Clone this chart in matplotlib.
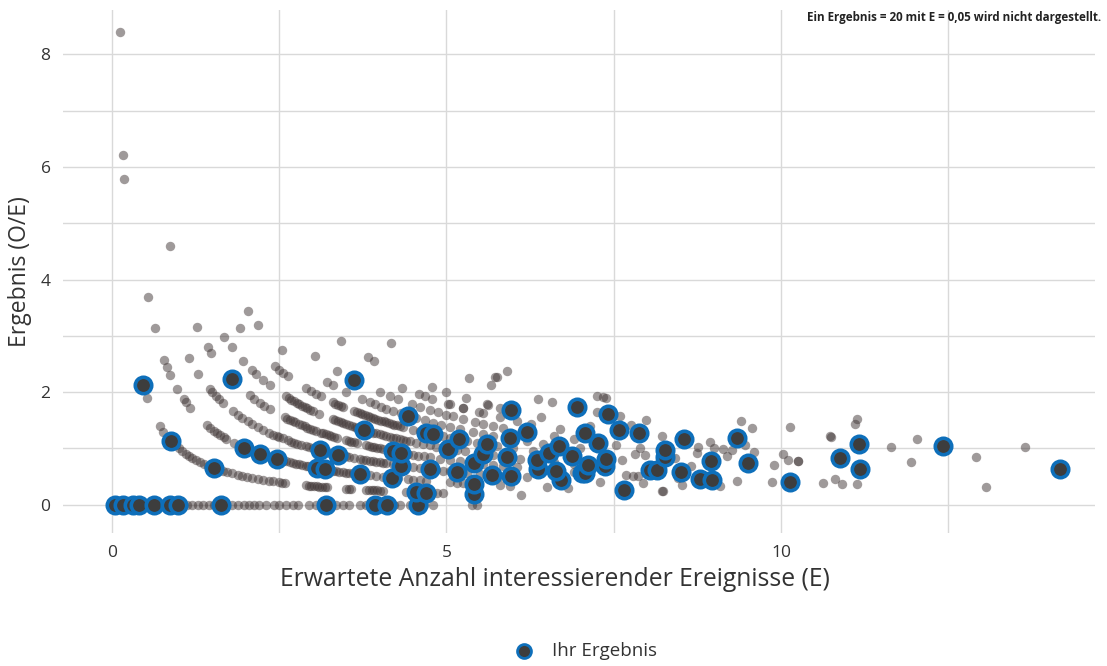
import numpy as np
import matplotlib.pyplot as plt
from matplotlib.ticker import MultipleLocator

# beobachtete Ereignisse O -> erwartete Ereignisse E (graue Punkte, alle Einrichtungen)
e_o0 = [0.05, 0.15, 0.3, 0.4, 0.63, 0.87, 0.98, 1.05, 1.12, 1.2, 1.28, 1.36, 1.45, 1.52, 1.6, 1.68,
        1.8, 1.88, 1.97, 2.05, 2.12, 2.2, 2.3, 2.42, 2.5, 2.6, 2.7, 2.78, 2.95, 3.05, 3.2, 3.35, 3.45,
        3.55, 3.7, 3.8, 3.92, 4.05, 4.14, 4.22, 4.3, 4.45, 4.58, 4.67, 4.8, 5.38, 5.45]
e_o1 = [0.119, 0.161, 0.173, 0.53, 0.72, 0.77, 0.88, 0.95, 1.0, 1.05, 1.1, 1.15, 1.2, 1.26, 1.32, 1.38,
        1.44, 1.5, 1.53, 1.6, 1.66, 1.72, 1.8, 1.88, 1.95, 2.02, 2.1, 2.18, 2.26, 2.34, 2.41, 2.5, 2.54,
        2.58, 2.9, 2.94, 2.98, 3.02, 3.06, 3.1, 3.14, 3.18, 3.22, 3.5, 3.54, 3.58, 3.8, 3.84, 3.88, 3.92,
        3.96, 4.0, 4.05, 4.4, 4.48, 4.54, 4.62, 4.69, 4.78, 4.86, 4.95, 5.41, 6.12]
e_o2 = [0.542, 0.637, 0.78, 0.82, 0.87, 0.97, 1.07, 1.1, 1.17, 1.42, 1.47, 1.52, 1.57, 1.62, 1.67, 1.71,
        1.82, 1.9, 1.97, 2.05, 2.12, 2.21, 2.3, 2.42, 2.46, 2.5, 2.56, 2.6, 2.66, 2.7, 2.75, 2.8, 2.84,
        2.9, 2.93, 3.0, 3.07, 3.18, 3.3, 3.35, 3.4, 3.45, 3.5, 3.55, 3.6, 3.65, 3.71, 3.85, 3.95, 4.05,
        4.12, 4.19, 4.28, 4.42, 4.5, 4.6, 4.7, 5.05, 5.15, 5.25, 5.41, 5.8, 5.95, 6.5, 6.82, 7.65, 8.22,
        8.24]
e_o3 = [1.15, 1.29, 1.46, 1.5, 1.55, 1.6, 1.66, 1.81, 1.88, 1.95, 2.03, 2.1, 2.18, 2.26, 2.34, 2.41, 2.46,
        2.5, 2.55, 2.63, 2.68, 2.72, 2.77, 2.82, 2.9, 2.95, 3.0, 3.05, 3.11, 3.15, 3.2, 3.25, 3.38, 3.45,
        3.5, 3.55, 3.62, 3.7, 3.75, 3.8, 3.85, 3.9, 3.95, 4.0, 4.05, 4.1, 4.2, 4.32, 4.5, 4.6, 4.75, 4.85,
        4.95, 5.05, 5.16, 5.3, 5.5, 5.68, 5.8, 5.97, 6.2, 6.71, 7.29, 7.94, 8.52, 9.09]
e_o4 = [0.87, 1.266, 1.43, 1.48, 1.79, 2.06, 2.13, 2.21, 2.28, 2.36, 2.58, 2.62, 2.66, 2.7, 2.73, 2.8,
        2.84, 2.88, 2.92, 2.96, 3.0, 3.05, 3.12, 3.16, 3.2, 3.24, 3.28, 3.32, 3.36, 3.5, 3.54, 3.58, 3.62,
        3.66, 3.8, 3.84, 3.88, 3.92, 3.96, 4.0, 4.05, 4.12, 4.2, 4.32, 4.42, 4.5, 4.58, 4.66, 4.75, 4.9,
        5.05, 5.2, 5.41, 5.55, 5.7, 5.85, 6.05, 6.37, 6.63, 6.9, 7.02, 7.07, 7.68, 7.79, 7.86, 8.46, 8.79,
        8.97, 9.34, 9.87, 10.14, 10.63, 10.91, 11.13, 13.07]
e_o5 = [1.68, 1.79, 1.96, 2.09, 2.16, 2.26, 2.36, 2.6, 2.64, 2.68, 2.72, 2.76, 2.8, 2.84, 2.88, 2.92,
        2.96, 3.0, 3.1, 3.3, 3.34, 3.38, 3.42, 3.46, 3.5, 3.55, 3.59, 3.63, 3.67, 3.7, 3.74, 3.77, 3.82,
        3.86, 3.9, 3.95, 4.0, 4.05, 4.1, 4.15, 4.2, 4.25, 4.3, 4.35, 4.4, 4.45, 4.55, 4.65, 4.75, 4.85,
        4.95, 5.03, 5.15, 5.28, 5.54, 5.7, 5.91, 6.1, 6.36, 6.6, 6.9, 7.12, 7.37, 8.04, 8.14, 8.51, 10.81]
e_o6 = [1.91, 2.44, 2.5, 2.56, 2.63, 2.9, 2.97, 3.05, 3.12, 3.3, 3.34, 3.38, 3.42, 3.45, 3.62, 3.66, 3.7,
        3.74, 3.78, 3.82, 3.86, 3.9, 3.93, 3.97, 4.02, 4.06, 4.1, 4.14, 4.18, 4.22, 4.26, 4.3, 4.35, 4.5,
        4.6, 4.7, 4.8, 4.95, 5.05, 5.18, 5.3, 5.45, 5.61, 5.75, 6.0, 6.3, 6.53, 6.88, 7.39, 7.63, 8.66]
e_o7 = [2.03, 2.19, 2.54, 3.21, 3.3, 3.5, 3.74, 3.85, 3.93, 4.02, 4.1, 4.2, 4.32, 4.43, 4.55, 4.68, 4.8,
        4.92, 5.05, 5.2, 5.39, 5.55, 5.7, 5.95, 6.2, 6.45, 6.68, 7.0, 7.82, 7.97, 8.26, 8.42, 9.5, 9.89]
e_o8 = [3.03, 3.37, 3.62, 4.0, 4.15, 4.28, 4.48, 4.6, 4.75, 4.88, 5.0, 5.1, 5.25, 5.43, 5.55, 5.7, 5.84,
        6.2, 6.6, 6.9, 7.26, 7.53, 7.89, 8.27, 8.74, 9.19, 10.1, 10.26, 10.26]
e_o9 = [4.33, 4.59, 4.68, 4.79, 5.03, 5.05, 5.24, 5.25, 5.48, 5.55, 5.8, 6.05, 6.27, 6.7, 7.07, 8.76,
        9.0, 9.14, 9.26, 9.59, 10.03, 11.94]
e_o10 = [3.43, 3.82, 3.92, 4.78, 5.0, 5.29, 5.6, 5.62, 5.8, 5.97, 6.42, 7.14, 7.58, 7.87, 8.22, 8.48,
         8.55, 8.94, 9.46]
e_o11 = [7.76, 9.34, 12.92]
e_o12 = [4.17, 5.34, 5.66, 6.37, 6.57, 6.95, 7.25, 7.42, 7.6, 7.98, 11.16, 11.65]
e_o13 = [5.73, 5.75, 9.56, 10.73, 10.75, 12.42]
e_o14 = [5.91, 7.25, 7.34, 7.38, 9.4, 10.13, 12.03, 13.64]
e_o16 = [11.11]
e_o17 = [11.13]

# eigene Ergebnisse (blau umrandet)
hl_exp = [0.045, 0.16, 0.32, 0.41, 0.63, 0.87, 0.99, 1.63, 3.2, 3.93, 4.11, 4.58,
          0.47, 0.88, 1.53, 4.54, 4.69, 5.41,
          1.97, 2.21, 2.46, 3.07, 3.18, 3.71, 4.19, 5.41, 7.65,
          3.11, 3.38, 4.32, 4.75, 5.16, 5.68, 5.97, 6.71,
          1.79, 4.2, 4.32, 5.41, 6.37, 6.63, 7.02, 7.07, 8.79, 8.97, 10.14,
          3.77, 5.03, 5.54, 5.91, 6.36, 7.12, 7.37, 8.04, 8.14, 8.51,
          4.70, 4.80, 5.18, 5.61, 6.53, 6.88, 7.39,
          4.43, 5.95, 6.68, 8.26, 8.95, 9.50, 11.18,
          3.62, 6.20, 7.26, 8.27,
          7.07, 10.88, 14.17,
          5.97, 7.58, 7.87, 8.55,
          9.34,
          6.95, 7.42, 11.16,
          12.42]
hl_obs = [0] * 12 + [1] * 6 + [2] * 9 + [3] * 8 + [4] * 11 + [5] * 10 + [6] * 7 + [7] * 7 + \
         [8] * 4 + [9] * 3 + [10] * 4 + [11] * 1 + [12] * 3 + [13] * 1

groups = [(0, e_o0), (1, e_o1), (2, e_o2), (3, e_o3), (4, e_o4), (5, e_o5), (6, e_o6), (7, e_o7),
          (8, e_o8), (9, e_o9), (10, e_o10), (11, e_o11), (12, e_o12), (13, e_o13), (14, e_o14),
          (16, e_o16), (17, e_o17)]
grey_e = np.concatenate([np.array(e, dtype=float) for o, e in groups])
grey_o = np.concatenate([np.full(len(e), o, dtype=float) for o, e in groups])
grey_r = grey_o / grey_e

hl_e = np.array(hl_exp, dtype=float)
hl_r = np.array(hl_obs, dtype=float) / hl_e

plt.rcParams['font.family'] = ['Open Sans', 'DejaVu Sans']
txt = '#333333'
blue = '#0e6fba'

fig = plt.figure(figsize=(11.07, 6.66), dpi=100)
ax = fig.add_axes([0.057, 0.2, 0.932, 0.785])

ax.scatter(grey_e, grey_r, s=46, color='#413737', alpha=0.5, linewidths=0, zorder=2)
ax.scatter(hl_e, hl_r, s=140, color='#3d3d3d', edgecolors=blue, linewidths=2.6, zorder=3)

ax.set_xlim(-0.73, 14.69)
ax.set_ylim(-0.5, 8.79)
ax.xaxis.set_major_locator(MultipleLocator(5))
ax.xaxis.set_minor_locator(MultipleLocator(2.5))
ax.yaxis.set_major_locator(MultipleLocator(2))
ax.yaxis.set_minor_locator(MultipleLocator(1))
ax.grid(True, which='both', color='#d9d9d9', linewidth=1)
ax.set_axisbelow(True)
for s in ax.spines.values():
    s.set_visible(False)
ax.tick_params(which='both', length=0, labelsize=12.5, labelcolor=txt, pad=9)

ax.set_xlabel('Erwartete Anzahl interessierender Ereignisse (E)', fontsize=17.8, color=txt)
ax.xaxis.set_label_coords((555 - 63) / 1032, -0.066)
ax.set_ylabel('Ergebnis (O/E)', fontsize=16.5, color=txt, labelpad=6)

fig.text(1101 / 1107, 1 - 17 / 666, 'Ein Ergebnis = 20 mit E = 0,05 wird nicht dargestellt.',
         ha='right', va='center', fontsize=8.4, fontweight='bold', color='#222222')

h = ax.scatter([], [], s=100, color='#3d3d3d', edgecolors=blue, linewidths=2)
fig.legend([h], ['Ihr Ergebnis'], loc='center', bbox_to_anchor=(581 / 1107, 1 - 651 / 666),
           frameon=False, fontsize=13.5, handletextpad=0.5, labelcolor=txt)

fig.savefig('out.png', dpi=100)
